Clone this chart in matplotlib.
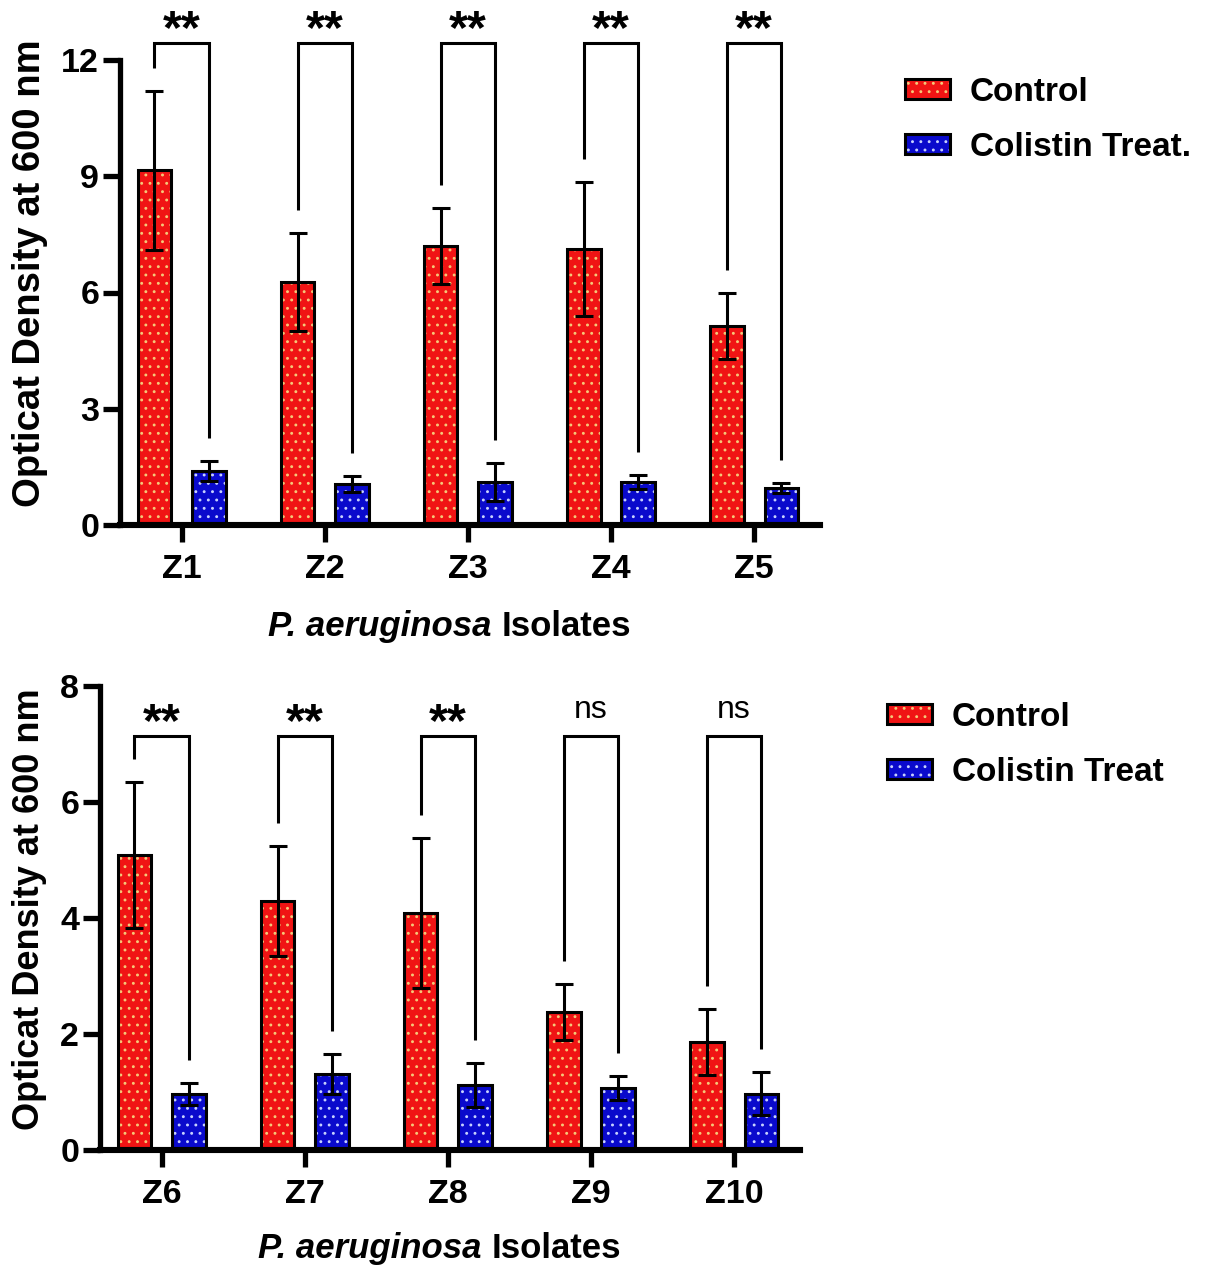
import numpy as np
import matplotlib
matplotlib.use('Agg')
import matplotlib.pyplot as plt
from matplotlib.patches import Patch

plt.rcParams['font.family'] = ['Liberation Sans', 'DejaVu Sans']
plt.rcParams['hatch.linewidth'] = 0.9

# ---------------- data ----------------
top_isolates = ['Z1', 'Z2', 'Z3', 'Z4', 'Z5']
top_control = [9.15, 6.27, 7.20, 7.12, 5.14]
top_control_sd = [2.05, 1.27, 0.97, 1.73, 0.85]
top_colistin = [1.39, 1.06, 1.11, 1.11, 0.95]
top_colistin_sd = [0.26, 0.20, 0.49, 0.18, 0.13]
top_sig = ['**', '**', '**', '**', '**']
top_yticks = [0, 3, 6, 9, 12]

bot_isolates = ['Z6', 'Z7', 'Z8', 'Z9', 'Z10']
bot_control = [5.08, 4.29, 4.09, 2.38, 1.86]
bot_control_sd = [1.26, 0.95, 1.29, 0.48, 0.57]
bot_colistin = [0.96, 1.31, 1.12, 1.07, 0.97]
bot_colistin_sd = [0.19, 0.35, 0.38, 0.21, 0.37]
bot_sig = ['**', '**', '**', 'ns', 'ns']
bot_yticks = [0, 2, 4, 6, 8]

series_labels = ['Control', 'Colistin Treat.']
series_labels_bottom = ['Control', 'Colistin Treat']

RED = '#F01414'
BLUE = '#0A0ACC'
RED_DOT = '#F5C878'
BLUE_DOT = '#C8D2FF'

W, H = 1210, 1266
fig = plt.figure(figsize=(W / 100, H / 100), dpi=100)

SPINE_LW = 3.8
BAR_LW = 2.2
OFF = 0.19
BW = 0.235


def draw_panel(ax, isolates, ctrl, ctrl_sd, col, col_sd, sig, yticks,
               bracket_y, gap):
    x = np.arange(len(isolates))
    xr = x - OFF
    xb = x + OFF
    # filled, dotted bars
    ax.bar(xr, ctrl, width=BW, color=RED, edgecolor=RED_DOT, hatch='..',
           linewidth=0, zorder=2)
    ax.bar(xb, col, width=BW, color=BLUE, edgecolor=BLUE_DOT, hatch='..',
           linewidth=0, zorder=2)
    # outlines
    ax.bar(xr, ctrl, width=BW, fill=False, edgecolor='black',
           linewidth=BAR_LW, zorder=3)
    ax.bar(xb, col, width=BW, fill=False, edgecolor='black',
           linewidth=BAR_LW, zorder=3)
    # error bars
    ax.errorbar(xr, ctrl, yerr=ctrl_sd, fmt='none', ecolor='black',
                elinewidth=2.2, capsize=6.5, capthick=2.2, zorder=4)
    ax.errorbar(xb, col, yerr=col_sd, fmt='none', ecolor='black',
                elinewidth=2.2, capsize=6.5, capthick=2.2, zorder=4)
    # significance brackets
    for i in range(len(isolates)):
        lb = ctrl[i] + ctrl_sd[i] + gap
        rb = col[i] + col_sd[i] + gap
        ax.plot([xr[i], xr[i], xb[i], xb[i]], [lb, bracket_y, bracket_y, rb],
                color='black', lw=2.2, clip_on=False, zorder=5,
                solid_joinstyle='miter', solid_capstyle='butt')
        if sig[i] == 'ns':
            ax.annotate(sig[i], xy=((xr[i] + xb[i]) / 2, bracket_y),
                        xytext=(0, 13), textcoords='offset points',
                        ha='center', va='baseline', fontsize=23,
                        annotation_clip=False)
        else:
            ax.annotate(sig[i], xy=((xr[i] + xb[i]) / 2, bracket_y),
                        xytext=(0, 0), textcoords='offset points',
                        ha='center', va='baseline', fontsize=35,
                        fontweight='bold', annotation_clip=False)
    ax.set_xlim(-0.43, len(isolates) - 0.54)
    ax.set_ylim(yticks[0], yticks[-1])
    ax.set_yticks(yticks)
    ax.set_xticks(x)
    ax.set_xticklabels(isolates)
    for s in ['top', 'right']:
        ax.spines[s].set_visible(False)
    ax.spines['left'].set_linewidth(SPINE_LW)
    ax.spines['bottom'].set_linewidth(SPINE_LW + 0.6)
    ax.spines['left'].set_capstyle('projecting')
    ax.tick_params(axis='both', width=SPINE_LW, length=12, color='black')
    ax.tick_params(axis='y', pad=3, labelsize=24.5)
    ax.tick_params(axis='x', pad=9, labelsize=24.5)
    for lab in ax.get_xticklabels() + ax.get_yticklabels():
        lab.set_fontweight('bold')


ax1 = fig.add_axes([120 / W, 1 - 525 / H, 700 / W, 465 / H])
draw_panel(ax1, top_isolates, top_control, top_control_sd, top_colistin,
           top_colistin_sd, top_sig, top_yticks, bracket_y=12.44, gap=0.6)

ax2 = fig.add_axes([100 / W, 1 - 1150 / H, 700 / W, 464 / H])
draw_panel(ax2, bot_isolates, bot_control, bot_control_sd, bot_colistin,
           bot_colistin_sd, bot_sig, bot_yticks, bracket_y=7.14, gap=0.4)

# axis labels
fig.text(30 / W, 1 - 273 / H, 'Opticat Density at 600 nm', rotation=90,
         ha='center', va='center', fontsize=27.5, fontweight='bold')
fig.text(30 / W, 1 - 909 / H, 'Opticat Density at 600 nm', rotation=90,
         ha='center', va='center', fontsize=26, fontweight='bold')

for xc, yc in [(460, 636), (450, 1258)]:
    t1 = fig.text((xc - 192) / W, 1 - yc / H, 'P. aeruginosa ', ha='left',
                  va='baseline', fontsize=25, fontweight='bold',
                  style='italic')
    fig.canvas.draw()
    bb = t1.get_window_extent()
    fig.text(bb.x1 / W, 1 - yc / H, 'Isolates', ha='left', va='baseline',
             fontsize=25, fontweight='bold')


# legends
def make_handles():
    h_red = (Patch(facecolor=RED, edgecolor=RED_DOT, hatch='..', linewidth=0),
             Patch(fill=False, edgecolor='black', linewidth=BAR_LW))
    h_blue = (Patch(facecolor=BLUE, edgecolor=BLUE_DOT, hatch='..', linewidth=0),
              Patch(fill=False, edgecolor='black', linewidth=BAR_LW))
    return [h_red, h_blue]


for (lx, ly, labels) in [(905, 77, series_labels), (887, 702, series_labels_bottom)]:
    fig.legend(make_handles(), labels, loc='upper left',
               bbox_to_anchor=(lx / W, 1 - ly / H), frameon=False,
               prop={'size': 24, 'weight': 'bold'}, handlelength=1.35,
               handleheight=0.55, handletextpad=0.6, labelspacing=0.72,
               borderpad=0, borderaxespad=0)

fig.savefig('out.png', dpi=100, facecolor='white')
